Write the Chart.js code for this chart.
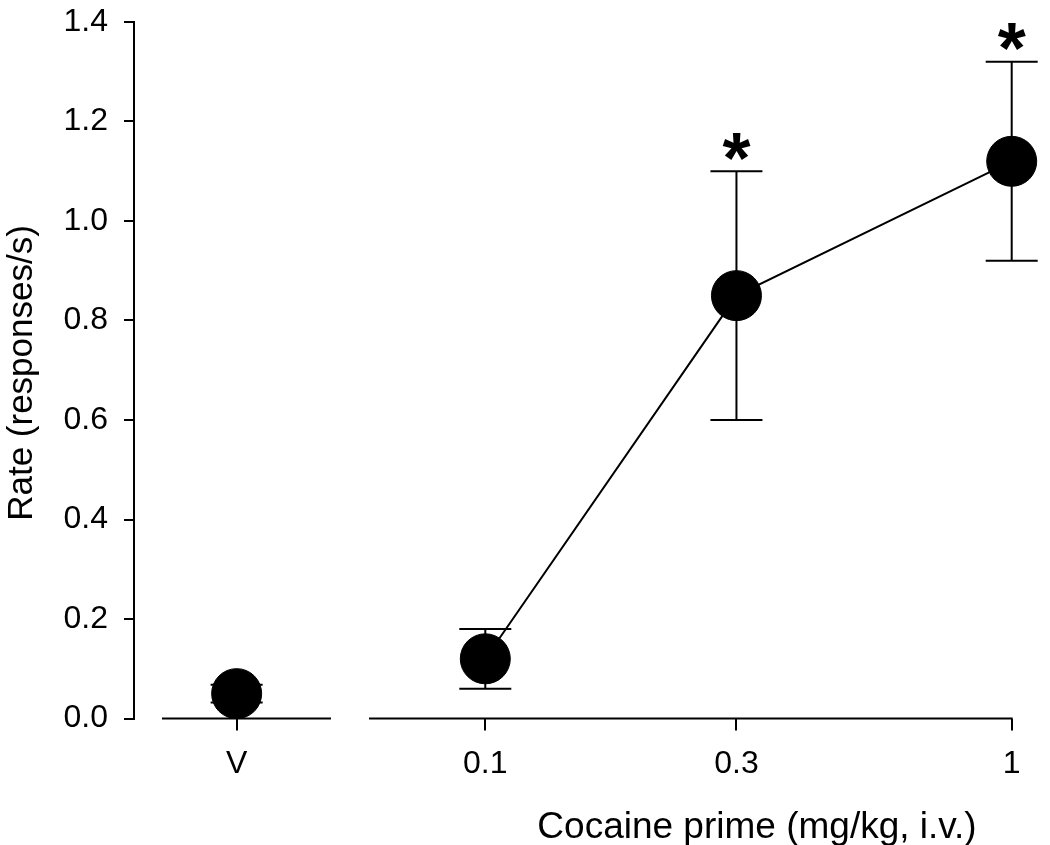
<!DOCTYPE html>
<html>
<head>
<meta charset="utf-8">
<script src="https://cdn.jsdelivr.net/npm/chart.js@4"></script>
<style>
  html, body { margin: 0; padding: 0; background: #fff; }
  #wrap { width: 1050px; height: 845px; }
</style>
</head>
<body>
<div id="wrap"><canvas id="c" width="1050" height="845"></canvas></div>
<script>
// ---- data ----
const doseLabels = ['V', '0.1', '0.3', '1'];
const dosePositions = [0.0337, 0.1, 0.3, 1];      // x positions on log dose axis (V placed left of 0.1)
const rateMeans = [0.05, 0.12, 0.85, 1.12];
const rateErrors = [0.018, 0.06, 0.25, 0.20];
const significant = [false, false, true, true];
const yTicks = [0, 0.2, 0.4, 0.6, 0.8, 1.0, 1.2, 1.4];

// axis break segments (in dose units)
const xAxisSegments = [[0.02431, 0.05069], [0.06013, 1]];

const FONT = '"Liberation Sans", Arial, Helvetica, sans-serif';

const vehiclePoints = [{ x: dosePositions[0], y: rateMeans[0] }];
const cocainePoints = dosePositions.slice(1).map((x, i) => ({ x, y: rateMeans[i + 1] }));

const decorPlugin = {
  id: 'decor',
  beforeDatasetsDraw(chart) {
    const ctx = chart.ctx;
    const xs = chart.scales.x, ys = chart.scales.y;
    ctx.save();
    ctx.strokeStyle = '#000';
    ctx.lineWidth = 2;
    // broken x axis
    const yb = ys.getPixelForValue(0);
    xAxisSegments.forEach(([a, b]) => {
      ctx.beginPath();
      ctx.moveTo(xs.getPixelForValue(a), yb);
      ctx.lineTo(xs.getPixelForValue(b) + 1, yb);
      ctx.stroke();
    });
    // error bars
    const cap = 26;
    dosePositions.forEach((d, i) => {
      const px = xs.getPixelForValue(d);
      const top = ys.getPixelForValue(rateMeans[i] + rateErrors[i]);
      const bot = ys.getPixelForValue(rateMeans[i] - rateErrors[i]);
      ctx.beginPath();
      ctx.moveTo(px, top); ctx.lineTo(px, bot);
      ctx.moveTo(px - cap, top); ctx.lineTo(px + cap, top);
      ctx.moveTo(px - cap, bot); ctx.lineTo(px + cap, bot);
      ctx.stroke();
    });
    ctx.restore();
  },
  afterDatasetsDraw(chart) {
    const ctx = chart.ctx;
    const xs = chart.scales.x, ys = chart.scales.y;
    ctx.save();
    ctx.fillStyle = '#000';
    // significance stars
    ctx.font = 'bold 72px ' + FONT;
    ctx.textAlign = 'center';
    ctx.textBaseline = 'alphabetic';
    dosePositions.forEach((d, i) => {
      if (!significant[i]) return;
      const px = xs.getPixelForValue(d);
      const top = ys.getPixelForValue(rateMeans[i] + rateErrors[i]);
      const m = ctx.measureText('*');
      const cy = top - 25;
      const y = cy + (m.actualBoundingBoxAscent - m.actualBoundingBoxDescent) / 2;
      ctx.fillText('*', px, y);
    });
    // axis titles
    ctx.textAlign = 'center';
    ctx.textBaseline = 'alphabetic';
    ctx.font = '37px ' + FONT;
    ctx.fillText('Cocaine prime (mg/kg, i.v.)', 757, 838);
    ctx.font = '35px ' + FONT;
    ctx.save();
    ctx.translate(32, 373);
    ctx.rotate(-Math.PI / 2);
    ctx.fillText('Rate (responses/s)', 0, 0);
    ctx.restore();
    ctx.restore();
  }
};

new Chart(document.getElementById('c'), {
  type: 'scatter',
  data: {
    datasets: [
      {
        label: 'Vehicle',
        data: vehiclePoints,
        showLine: false,
        pointRadius: 25,
        pointHoverRadius: 25,
        pointBackgroundColor: '#000',
        pointBorderColor: '#000',
        pointBorderWidth: 1
      },
      {
        label: 'Cocaine',
        data: cocainePoints,
        showLine: true,
        borderColor: '#000',
        borderWidth: 2,
        pointRadius: 25,
        pointHoverRadius: 25,
        pointBackgroundColor: '#000',
        pointBorderColor: '#000',
        pointBorderWidth: 1
      }
    ]
  },
  options: {
    responsive: false,
    animation: false,
    devicePixelRatio: 1,
    layout: { autoPadding: false, padding: { left: 0, right: 10, top: 22, bottom: 0 } },
    plugins: { legend: { display: false }, tooltip: { enabled: false } },
    events: [],
    scales: {
      x: {
        type: 'logarithmic',
        min: 0.02151,
        max: 1.1318,
        bounds: 'data',
        border: { display: false },
        grid: { display: true, drawOnChartArea: false, drawTicks: true, tickLength: 12, color: '#000', lineWidth: 2 },
        afterBuildTicks(scale) { scale.ticks = dosePositions.map(v => ({ value: v })); },
        afterFit(scale) { scale.height = 126.5; scale.paddingLeft = 0; scale.paddingRight = 0; },
        ticks: {
          autoSkip: false,
          maxRotation: 0,
          padding: 14,
          color: '#000',
          font: { family: FONT, size: 32 },
          callback: (v, i) => doseLabels[i]
        }
      },
      y: {
        type: 'linear',
        min: 0,
        max: 1.4,
        border: { display: true, color: '#000', width: 2 },
        grid: { display: true, drawOnChartArea: false, drawTicks: true, tickLength: 10, color: '#000', lineWidth: 2 },
        afterBuildTicks(scale) { scale.ticks = yTicks.map(v => ({ value: v })); },
        afterFit(scale) { scale.width = 134; scale.paddingTop = 0; scale.paddingBottom = 0; },
        ticks: {
          padding: 16,
          color: '#000',
          font: { family: FONT, size: 32 },
          callback: v => Number(v).toFixed(1)
        }
      }
    }
  },
  plugins: [decorPlugin]
});
</script>
</body>
</html>
